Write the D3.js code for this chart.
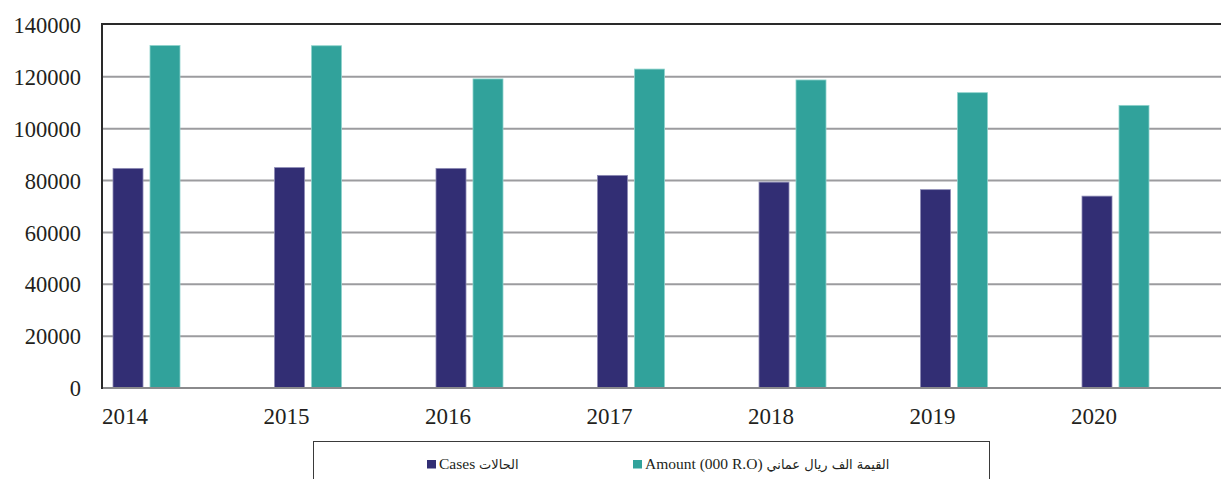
<!DOCTYPE html>
<html>
<head>
<meta charset="utf-8">
<script src="https://cdn.jsdelivr.net/npm/d3@7/dist/d3.min.js"></script>
<style>
  html, body { margin: 0; padding: 0; background: #fff; }
  svg { display: block; }
  text { font-family: "Liberation Serif", "Times New Roman", serif; fill: #231f20; }
</style>
</head>
<body>
<svg id="chart" width="1221" height="479"></svg>
<script>
// Yearly cases and amounts (thousand R.O)
const years = ["2014", "2015", "2016", "2017", "2018", "2019", "2020"];
const cases = [84700, 85000, 84700, 82000, 79400, 76500, 74000];
const amounts = [132100, 132000, 119200, 123000, 118800, 113900, 109000];
const yTicks = [0, 20000, 40000, 60000, 80000, 100000, 120000, 140000];
const seriesKeys = ["cases", "amount"];
const seriesLatin = ["Cases ", "Amount (000 R.O) "];
const seriesArabic = ["الحالات", "القيمة الف ريال عماني"];
const seriesColors = ["#322e74", "#31a29b"];
const seriesStrokes = ["#8d8bb5", "#8fd3cc"];

const svg = d3.select("#chart");
const plotLeft = 102, plotTop = 25, plotBottom = 388;
const step = 161.5;

const x = d3.scaleBand().domain(years).range([plotLeft, plotLeft + step * years.length]);
const x1 = d3.scaleBand().domain(seriesKeys).range([11, 78]).paddingInner(0.189);
const y = d3.scaleLinear().domain([0, 140000]).range([plotBottom, plotTop]);

// gridlines
const grid = svg.append("g");
grid.selectAll("line").data(yTicks.filter(d => d > 0 && d < 140000)).join("line")
  .attr("x1", plotLeft).attr("x2", 1221)
  .attr("y1", d => y(d)).attr("y2", d => y(d))
  .attr("stroke", "#9c9c9f").attr("stroke-width", 2);

// top frame line
svg.append("line").attr("x1", plotLeft).attr("x2", 1221)
  .attr("y1", y(140000) - 1).attr("y2", y(140000) - 1)
  .attr("stroke", "#2a2a2a").attr("stroke-width", 2);

// bars
const rows = years.map((yr, i) => ({ year: yr, values: [cases[i], amounts[i]] }));
const groups = svg.append("g").selectAll("g").data(rows).join("g")
  .attr("transform", d => `translate(${x(d.year)},0)`);
groups.selectAll("rect").data(d => d.values.map((v, k) => ({ key: seriesKeys[k], k, v }))).join("rect")
  .attr("x", d => x1(d.key))
  .attr("width", x1.bandwidth())
  .attr("y", d => y(d.v))
  .attr("height", d => y(0) - y(d.v))
  .attr("fill", d => seriesColors[d.k])
  .attr("stroke", d => seriesStrokes[d.k])
  .attr("stroke-width", 0.8);

// axis lines
svg.append("line").attr("x1", plotLeft).attr("x2", 1221).attr("y1", plotBottom).attr("y2", plotBottom)
  .attr("stroke", "#8a8a8c").attr("stroke-width", 2);
svg.append("line").attr("x1", plotLeft).attr("x2", plotLeft).attr("y1", plotTop - 2).attr("y2", plotBottom + 1)
  .attr("stroke", "#2a2a2a").attr("stroke-width", 2);

// y axis labels
const yAxis = d3.axisLeft(y).tickValues(yTicks).tickSize(0).tickPadding(0).tickFormat(d3.format("d"));
const ya = svg.append("g").attr("transform", `translate(81,0)`).call(yAxis);
ya.select(".domain").remove();
ya.selectAll("text").attr("font-size", 22.5).attr("font-family", "Liberation Serif").attr("fill", "#231f20")
  .attr("dy", "0.34em");

// x axis labels, left aligned at each band
const xAxis = d3.axisBottom(x).tickSize(0).tickPadding(0);
const xa = svg.append("g").attr("transform", `translate(0,${plotBottom})`).call(xAxis);
xa.select(".domain").remove();
xa.selectAll(".tick").attr("transform", d => `translate(${x(d)},0)`);
xa.selectAll("text").attr("font-size", 23).attr("font-family", "Liberation Serif").attr("fill", "#231f20")
  .attr("text-anchor", "start").attr("y", 36).attr("dy", 0);

// legend
const legend = svg.append("g");
legend.append("rect").attr("x", 313.5).attr("y", 441.5).attr("width", 676).attr("height", 60)
  .attr("fill", "none").attr("stroke", "#3a3a3a").attr("stroke-width", 1);
const legendX = [427, 633];
const items = legend.selectAll("g.item").data(seriesKeys).join("g").attr("class", "item")
  .attr("transform", (d, i) => `translate(${legendX[i]},0)`);
items.append("rect").attr("x", 0).attr("y", 460).attr("width", 9).attr("height", 8.5)
  .attr("fill", (d, i) => seriesColors[i]);
const labels = items.append("text").attr("x", 12).attr("y", 468.5).attr("font-size", 15.5);
labels.append("tspan").text((d, i) => seriesLatin[i]);
labels.append("tspan").attr("font-size", 13).attr("font-family", "DejaVu Sans")
  .text((d, i) => seriesArabic[i]);
</script>
</body>
</html>
